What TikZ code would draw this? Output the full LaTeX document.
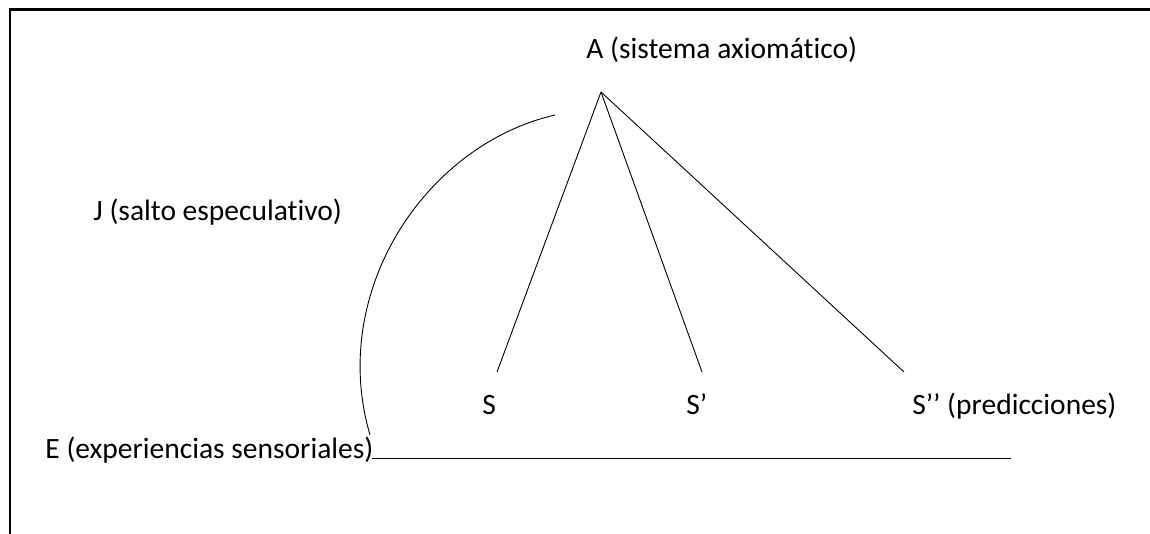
\documentclass[tikz,border=0pt]{standalone}
\usepackage{fontspec}
\setmainfont{Carlito}[Ligatures=NoCommon]
\begin{document}
\begin{tikzpicture}[x=1pt, y=-1pt, line width=0.9pt,
  every node/.style={font=\fontsize{29.5}{35}\selectfont, inner sep=0pt, anchor=base west}]
  \useasboundingbox (0,0) rectangle (1150,534);

  % frame
  \draw[line width=2.4pt] (10,534) -- (10,9.5) -- (1150,9.5);

  % points
  \coordinate (apex) at (601,92);
  \coordinate (S1top) at (497,372);
  \coordinate (S2top) at (702,372);
  \coordinate (S3top) at (904,372);
  \coordinate (Jstart) at (555,115);
  \coordinate (Jend) at (370,435);
  \coordinate (Eleft) at (372,458);
  \coordinate (Eright) at (1011,458);

  % labels
  \node (nA) at (586,59) {A (sistema axiomático)};
  \node (nJ) at (93,221) {J (salto especulativo)};
  \node (nS1) at (482,414) {S};
  \node (nS2) at (686,414) {S’};
  \node (nS3) at (912,414) {S’’ (predicciones)};
  \node (nE) at (45,458) {E (experiencias sensoriales)};

  % deduction lines
  \draw (apex) -- (S1top);
  \draw (apex) -- (S2top);
  \draw (apex) -- (S3top);

  % speculative jump and experience line
  \draw (Jstart) .. controls (425,145) and (328,292) .. (Jend);
  \draw (Eleft) -- (Eright);
\end{tikzpicture}
\end{document}
